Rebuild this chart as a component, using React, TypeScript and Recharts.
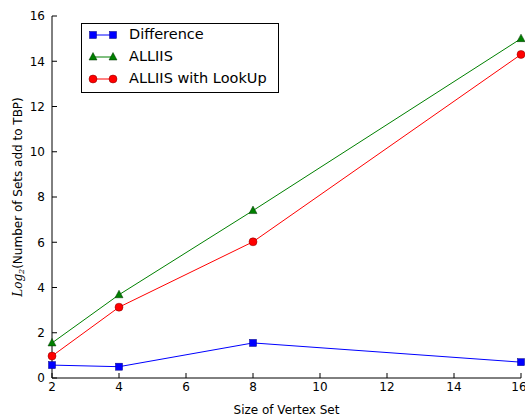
import { LineChart, Line, XAxis, YAxis, Legend, Label } from "recharts";

// x values (size of vertex set)
const SIZES = [2, 4, 8, 16];
// series values
const DIFFERENCE = [0.57, 0.5, 1.55, 0.7];
const ALLIIS = [1.55, 3.68, 7.4, 15.0];
const ALLIIS_LOOKUP = [0.97, 3.13, 6.02, 14.3];

const X_TICKS = [2, 4, 6, 8, 10, 12, 14, 16];
const Y_TICKS = [0, 2, 4, 6, 8, 10, 12, 14, 16];

const FONT = "'DejaVu Sans', sans-serif";

const data = SIZES.map((size, i) => ({
  size,
  diff: DIFFERENCE[i],
  alliis: ALLIIS[i],
  lookup: ALLIIS_LOOKUP[i],
}));

const SERIES = [
  { key: "diff", name: "Difference", color: "#0000ff", edge: "#000080", marker: "square" },
  { key: "alliis", name: "ALLIIS", color: "#008000", edge: "#003300", marker: "triangle" },
  { key: "lookup", name: "ALLIIS with LookUp", color: "#ff0000", edge: "#800000", marker: "circle" },
];

// draws a marker centered on cx, cy
function Marker({ cx, cy, type, fill, edge }: any) {
  if (cx == null || cy == null) return null;
  if (type === "square") {
    return <rect x={cx - 3.5} y={cy - 3.5} width={7} height={7} fill={fill} stroke={edge} strokeWidth={0.5} />;
  }
  if (type === "triangle") {
    return (
      <polygon
        points={`${cx},${cy - 4.5} ${cx - 4},${cy + 3} ${cx + 4},${cy + 3}`}
        fill={fill}
        stroke={edge}
        strokeWidth={0.5}
      />
    );
  }
  return <circle cx={cx} cy={cy} r={4} fill={fill} stroke={edge} strokeWidth={0.5} />;
}

function LegendBox() {
  return (
    <div
      style={{
        border: "1px solid #000",
        background: "#fff",
        width: 196,
        height: 68,
        boxSizing: "content-box",
        fontFamily: FONT,
        fontSize: 14.5,
        color: "#000",
      }}
    >
      {SERIES.map((s) => (
        <div key={s.key} style={{ position: "relative", height: 22 }}>
          <svg width={40} height={22} style={{ position: "absolute", left: 0, top: 0 }}>
            <line x1={11} x2={31} y1={11} y2={11} stroke={s.color} strokeWidth={1} />
            <Marker cx={11} cy={11} type={s.marker} fill={s.color} edge={s.edge} />
            <Marker cx={31} cy={11} type={s.marker} fill={s.color} edge={s.edge} />
          </svg>
          <span style={{ position: "absolute", left: 47, top: 2, whiteSpace: "nowrap" }}>{s.name}</span>
        </div>
      ))}
    </div>
  );
}

function YTitle({ viewBox }: any) {
  const cx = 18;
  const cy = viewBox ? viewBox.y + viewBox.height / 2 : 197;
  return (
    <text
      transform={`translate(${cx},${cy}) rotate(-90)`}
      textAnchor="middle"
      dominantBaseline="central"
      fontFamily={FONT}
      fontSize={12}
      fill="#000"
    >
      <tspan fontFamily="'DejaVu Serif', serif" fontStyle="italic">Log</tspan>
      <tspan fontFamily="'DejaVu Serif', serif" fontStyle="italic" fontSize={8} dy={3}>2</tspan>
      <tspan dy={-3}>(Number of Sets add to TBP)</tspan>
    </text>
  );
}

export default function App() {
  const tickStyle = { fill: "#000", fontSize: 12, fontFamily: FONT };
  return (
    <div style={{ position: "absolute", left: 0, top: 0, width: 525, height: 416, background: "#fff" }}>
      <LineChart width={525} height={416} data={data} margin={{ top: 16, right: 4, left: 0, bottom: 0 }}>
        <XAxis
          xAxisId="bottom"
          dataKey="size"
          type="number"
          domain={[2, 16]}
          ticks={X_TICKS}
          height={38}
          tickSize={-5}
          tickMargin={9}
          stroke="#000"
          tick={tickStyle}
        >
          <Label value="Size of Vertex Set" position="insideBottom" offset={2} fill="#000" fontSize={12} fontFamily={FONT} />
        </XAxis>
        <XAxis
          xAxisId="top"
          orientation="top"
          dataKey="size"
          type="number"
          domain={[2, 16]}
          ticks={X_TICKS}
          height={0}
          tickSize={-5}
          stroke="#000"
          tick={false}
        />
        <YAxis
          yAxisId="left"
          type="number"
          domain={[0, 16]}
          ticks={Y_TICKS}
          width={52}
          tickSize={-5}
          tickMargin={12}
          stroke="#000"
          tick={tickStyle}
          label={<YTitle />}
        />
        <YAxis
          yAxisId="right"
          orientation="right"
          type="number"
          domain={[0, 16]}
          ticks={Y_TICKS}
          width={0}
          tickSize={-5}
          stroke="#000"
          tick={false}
        />
        <Legend
          content={<LegendBox />}
          layout="horizontal"
          verticalAlign="middle"
          align="center"
          wrapperStyle={{ top: 23, left: 81, width: "auto", height: "auto" }}
        />
        {/* invisible copy so the top and right frame axes get used */}
        <Line
          xAxisId="top"
          yAxisId="right"
          dataKey="diff"
          stroke="none"
          dot={false}
          activeDot={false}
          legendType="none"
          isAnimationActive={false}
        />
        {SERIES.map((s) => (
          <Line
            key={s.key}
            xAxisId="bottom"
            yAxisId="left"
            dataKey={s.key}
            name={s.name}
            stroke={s.color}
            strokeWidth={1}
            isAnimationActive={false}
            dot={(p: any) => <Marker key={`${s.key}-${p.index}`} cx={p.cx} cy={p.cy} type={s.marker} fill={s.color} edge={s.edge} />}
            activeDot={false}
          />
        ))}
      </LineChart>
    </div>
  );
}
